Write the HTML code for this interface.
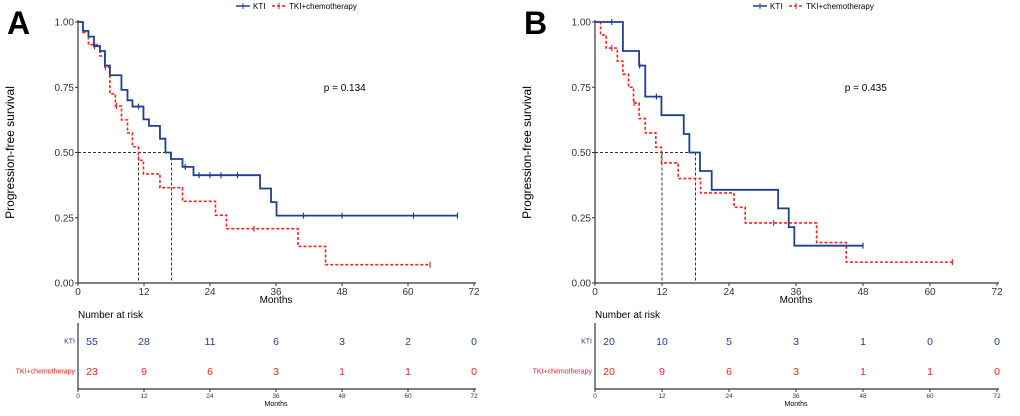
<!DOCTYPE html>
<html><head><meta charset="utf-8"><style>
body{margin:0;background:#fff;width:1020px;height:411px;overflow:hidden}
svg{font-family:"Liberation Sans",sans-serif}
</style></head><body>
<svg id="s" width="1020" height="411"></svg>
<script>
// Panel A data
const aKtiT=[0,0.9,1.9,2.9,4,4.9,5.8,7.9,9,9.9,11.9,12.9,14.9,15.9,16.9,19,21,33.1,35.1,36.1,69];
const aKtiS=[1,0.966,0.944,0.907,0.889,0.833,0.796,0.74,0.70,0.676,0.627,0.602,0.553,0.50,0.475,0.445,0.413,0.362,0.31,0.258,0.258];
const aKtiCT=[3,11,19.5,22,24,26,29,41,48,61,69];
const aChT=[0,0.9,1.9,4,4.9,5.8,6.8,7.9,9,9.9,11,11.9,14.9,19,25,27,40,45,64];
const aChS=[1,0.96,0.913,0.87,0.826,0.725,0.678,0.625,0.575,0.522,0.47,0.418,0.365,0.313,0.26,0.208,0.14,0.07,0.07];
const aChCT=[5,7,32,64];
const aMed=[11,17];
const aRiskK=[55,28,11,6,3,2,0];
const aRiskC=[23,9,6,3,1,1,0];
// Panel B data
const bKtiT=[0,5,7.9,9,11.9,15.9,16.9,18.8,20.9,32.8,34.7,35.7,48];
const bKtiS=[1,0.889,0.833,0.714,0.643,0.571,0.50,0.429,0.357,0.286,0.214,0.143,0.143];
const bKtiCT=[3,8,11,48];
const bChT=[0,1,2,4,5,6,6.9,7.9,9,10.9,11.9,14.9,18.9,24.9,26.9,39.7,45,64];
const bChS=[1,0.95,0.90,0.85,0.80,0.75,0.69,0.63,0.575,0.52,0.46,0.40,0.345,0.29,0.23,0.155,0.08,0.08];
const bChCT=[3,7,32,64];
const bMed=[12,18];
const bRiskK=[20,10,5,3,1,0,0];
const bRiskC=[20,9,6,3,1,1,0];
const xTicks=[0,12,24,36,48,60,72];
const yTicks=[0,0.25,0.5,0.75,1];

const NS="http://www.w3.org/2000/svg";
const svg=document.getElementById('s');
function el(t,a,txt){const e=document.createElementNS(NS,t);for(const k in a)e.setAttribute(k,a[k]);if(txt!=null)e.textContent=txt;svg.appendChild(e);return e;}
const BLUE="#1f3f8f",RED="#ff2020";

function panel(p){
  const x0=p.x0,x1=p.x1,yT=22,yB=283;
  const X=m=>x0+(x1-x0)*m/72, Y=v=>yB-(yB-yT)*v;
  const ya=el('line',{x1:x0,y1:yT-2,x2:x0,y2:yB,stroke:'#333','stroke-width':1.2});
  
  const xa=el('line',{x1:x0,y1:yB,x2:x1+2,y2:yB,stroke:'#333','stroke-width':1.2});
  
  yTicks.forEach(v=>{
    el('line',{x1:x0-3,y1:Y(v),x2:x0,y2:Y(v),stroke:'#333'});
    const t=el('text',{x:x0-4,y:Y(v)+3.5,'font-size':10,'text-anchor':'end',fill:'#333'},v.toFixed(2));
    
  });
  xTicks.forEach(m=>{
    el('line',{x1:X(m),y1:yB,x2:X(m),y2:yB+3,stroke:'#333'});
    const t=el('text',{x:X(m),y:yB+12,'font-size':10,'text-anchor':'middle',fill:'#333'},m);
    
  });
  let t=el('text',{x:X(36),y:yB+20,'font-size':10,'text-anchor':'middle'},'Months');
  
  t=el('text',{x:0,y:0,'font-size':12,'text-anchor':'middle',transform:`translate(${x0-64},${(yT+yB)/2}) rotate(-90)`},'Progression-free survival');
  
  t=el('text',{x:x0-71,y:34,'font-size':32,'font-weight':'bold'},p.label);
  
  t=el('text',{x:X(48.5),y:91,'font-size':10,'text-anchor':'middle'},p.pval);
  
  const mx=X(Math.max(...p.med));
  const ml=el('line',{x1:x0,y1:Y(0.5),x2:mx,y2:Y(0.5),stroke:'#333','stroke-dasharray':'3,2'});
  
  p.med.forEach(m=>{const l=el('line',{x1:X(m),y1:Y(0.5),x2:X(m),y2:yB,stroke:'#333','stroke-dasharray':'3,2'});
    });
  function curve(T,S,CT,col,dash,name){
    let d=`M${X(T[0])},${Y(S[0])}`;
    for(let i=1;i<T.length;i++){d+=`H${X(T[i])}V${Y(S[i])}`;}
    const a={d:d,fill:'none',stroke:col,'stroke-width':dash?1.6:1.8};
    if(dash)a['stroke-dasharray']='3,2';
    const c=el('path',a);
    CT.forEach(ct=>{let s=S[0];for(let i=0;i<T.length;i++)if(T[i]<=ct)s=S[i];
      const k=el('line',{x1:X(ct),y1:Y(s)-3,x2:X(ct),y2:Y(s)+3,stroke:col,'stroke-width':1.2});
      });
  }
  curve(p.cT,p.cS,p.cC,RED,true,'tki-chemo-curve');
  curve(p.kT,p.kS,p.kC,BLUE,false,'kti-curve');
  const lx=x0+158;
  let l=el('line',{x1:lx,y1:6,x2:lx+14,y2:6,stroke:BLUE,'stroke-width':1.5});
  el('line',{x1:lx+7,y1:3,x2:lx+7,y2:9,stroke:BLUE});
  t=el('text',{x:lx+17,y:9,'font-size':8},'KTI');
  l=el('line',{x1:lx+36,y1:6,x2:lx+50,y2:6,stroke:RED,'stroke-width':1.5,'stroke-dasharray':'3,2'});
  el('line',{x1:lx+43,y1:3,x2:lx+43,y2:9,stroke:RED});
  t=el('text',{x:lx+53,y:9,'font-size':8},'TKI+chemotherapy');
  const rT=323,rB=389;
  el('line',{x1:x0,y1:rT,x2:x0,y2:rB,stroke:'#333','stroke-width':1.2});
  el('line',{x1:x0,y1:rB,x2:x1+2,y2:rB,stroke:'#333','stroke-width':1.2});
  t=el('text',{x:x0,y:318,'font-size':10},'Number at risk');
  xTicks.forEach(m=>{el('line',{x1:X(m),y1:rB,x2:X(m),y2:rB+3,stroke:'#333'});
    el('text',{x:X(m),y:rB+9,'font-size':6.5,'text-anchor':'middle',fill:'#333'},m);});
  t=el('text',{x:X(36),y:rB+17,'font-size':7,'text-anchor':'middle'},'Months');
  
  [[341,'KTI',BLUE,p.rk],[371,'TKI+chemotherapy',RED,p.rc]].forEach(r=>{
    let lb=el('text',{x:x0-3,y:r[0]+2.5,'font-size':7,'text-anchor':'end',fill:r[2]},r[1]);
    
    r[3].forEach((n,i)=>{const xx=i==0?X(0)+14:X(xTicks[i]);
      const q=el('text',{x:xx,y:r[0]+4,'font-size':10.5,'text-anchor':'middle',fill:r[2]},n);
      });
  });
}
panel({x0:78,x1:474,label:'A',pval:'p = 0.134',kT:aKtiT,kS:aKtiS,kC:aKtiCT,cT:aChT,cS:aChS,cC:aChCT,med:aMed,rk:aRiskK,rc:aRiskC});
panel({x0:595,x1:997,label:'B',pval:'p = 0.435',kT:bKtiT,kS:bKtiS,kC:bKtiCT,cT:bChT,cS:bChS,cC:bChCT,med:bMed,rk:bRiskK,rc:bRiskC});
</script>
</body></html>
